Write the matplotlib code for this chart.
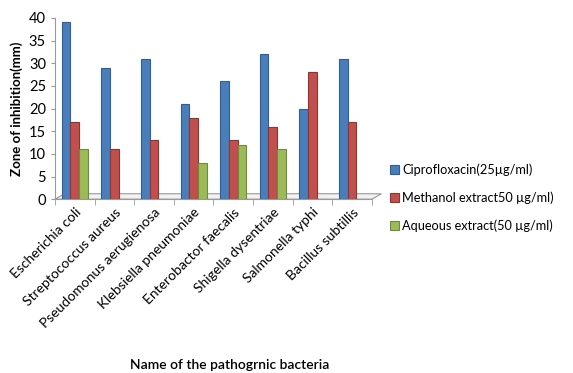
import numpy as np
import matplotlib
matplotlib.use("Agg")
import matplotlib.pyplot as plt
from matplotlib.patches import Polygon

plt.rcParams['font.family'] = ['Lato', 'DejaVu Sans']

bacteria = ['Escherichia coli', 'Streptococcus aureus', 'Pseudomonus aerugienosa',
            'Klebsiella pneumoniae', 'Enterobactor faecalis', 'Shigella dysentriae',
            'Salmonella typhi', 'Bacillus subtillis']
cipro = [39, 29, 31, 21, 26, 32, 20, 31]
methanol = [17, 11, 13, 18, 13, 16, 28, 17]
aqueous = [11, 0, 0, 8, 12, 11, 0, 0]

series = [
    ('Ciprofloxacin(25\u00b5g/ml)', cipro, '#4a7ebb', '#2f5e99'),
    ('Methanol extract50 \u00b5g/ml)', methanol, '#c0504d', '#8f3431'),
    ('Aqueous extract(50 \u00b5g/ml)', aqueous, '#9bbb59', '#6f8a3a'),
]

fig = plt.figure(figsize=(5.73, 3.73), dpi=100)
ax = fig.add_axes([0.096, 0.466, 0.553, 0.486])

x = np.arange(len(bacteria))
w = 0.22
for i, (lab, vals, col, edge) in enumerate(series):
    ax.bar(x + (i - 1) * w, vals, width=w, color=col, edgecolor=edge,
           linewidth=0.8, label=lab, zorder=3)

# 3D-looking floor
floor = Polygon([[0.0, 0.0], [1.0, 0.0], [1.03, 0.03], [0.03, 0.03]],
                closed=True, transform=ax.transAxes, facecolor='#f2f2f2',
                edgecolor='#999999', linewidth=0.8, zorder=1, clip_on=False)
ax.add_patch(floor)

ax.set_xlim(-0.5, len(bacteria) - 0.5)
ax.set_ylim(0, 40)
ax.set_yticks(range(0, 41, 5))
ax.set_xticks(x)
ax.set_xticklabels(bacteria, rotation=45, ha='right', rotation_mode='anchor', fontsize=10)
ax.set_xticks(np.arange(-0.5, len(bacteria), 1), minor=True)
ax.tick_params(axis='x', which='major', length=0, pad=5)
ax.tick_params(axis='x', which='minor', length=4, color='#999999')
ax.tick_params(axis='y', labelsize=10.5, length=3, color='#999999')

for s in ['top', 'right']:
    ax.spines[s].set_visible(False)
ax.spines['left'].set_color('#999999')
ax.spines['bottom'].set_color('#999999')

ax.set_ylabel('Zone of inhibition(mm)', fontsize=9.5, fontweight='bold', labelpad=4)
fig.text(0.40, 0.01, 'Name of the pathogrnic bacteria', fontsize=10, ha='center',
         fontweight='semibold')

fig.legend(loc='center left', bbox_to_anchor=(0.66, 0.47), frameon=False,
           fontsize=9.2, handlelength=0.7, handleheight=0.7, handletextpad=0.3,
           labelspacing=1.2)

fig.savefig('out.png', dpi=100)
